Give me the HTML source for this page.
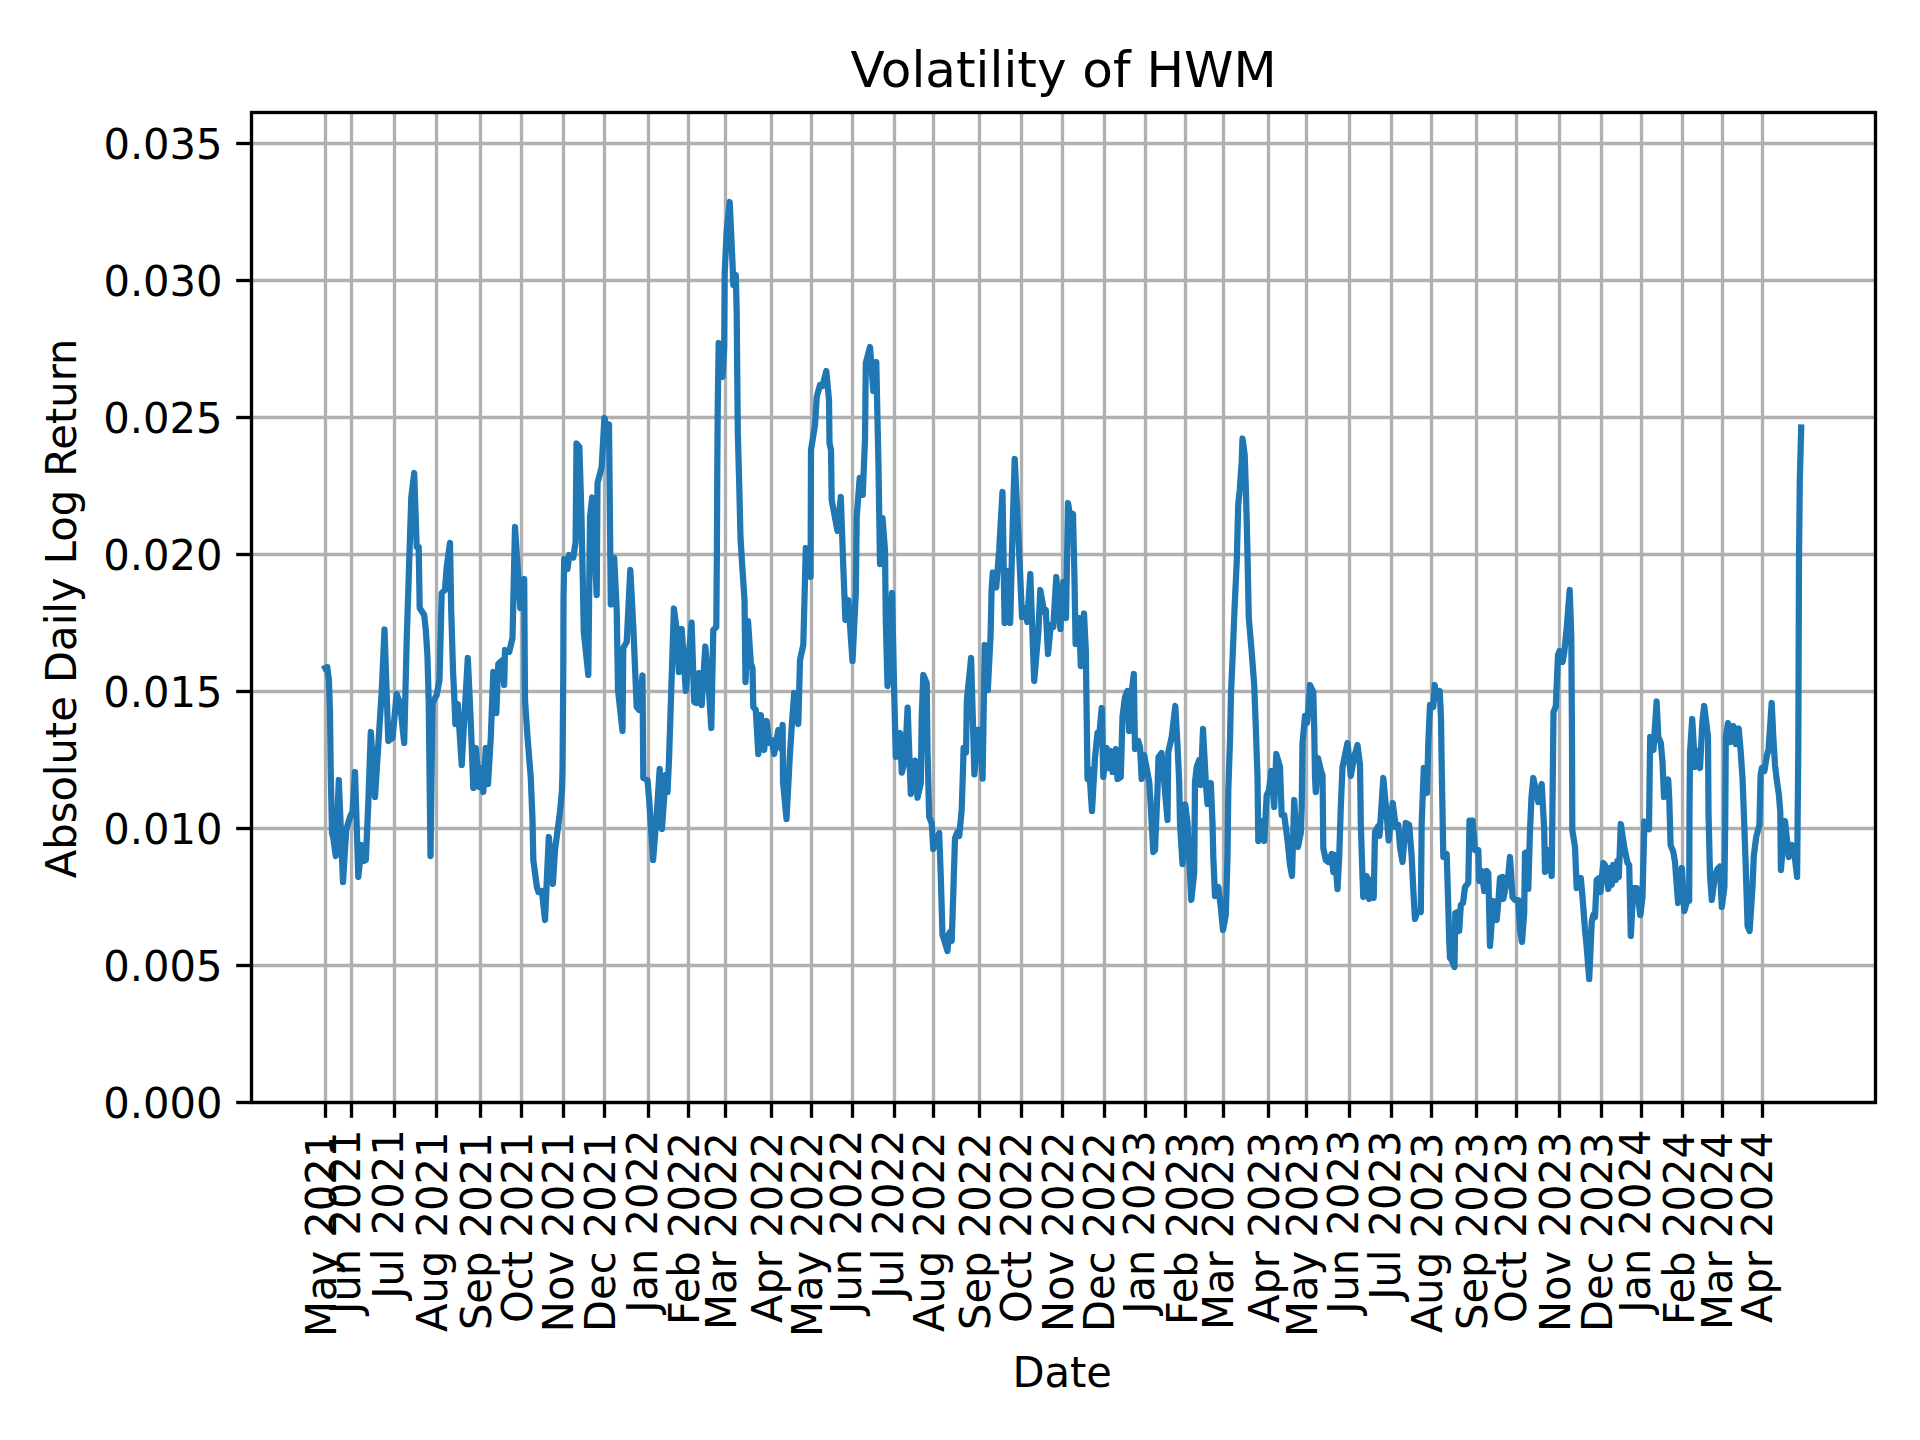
<!DOCTYPE html>
<html lang="en"><head><meta charset="utf-8"><title>Volatility of HWM</title>
<style>html,body{margin:0;padding:0;background:#fff}body{width:1920px;height:1440px;overflow:hidden}svg{display:block}text{font-family:"DejaVu Sans","Liberation Sans",sans-serif;fill:#000}</style></head><body>
<svg width="1920" height="1440" viewBox="0 0 1920 1440">
<rect width="1920" height="1440" fill="#fff"/>
<g stroke="#b0b0b0" stroke-width="3.333" fill="none">
<line x1="325.50" y1="112.5" x2="325.50" y2="1102.5"/>
<line x1="351.50" y1="112.5" x2="351.50" y2="1102.5"/>
<line x1="394.50" y1="112.5" x2="394.50" y2="1102.5"/>
<line x1="436.50" y1="112.5" x2="436.50" y2="1102.5"/>
<line x1="480.50" y1="112.5" x2="480.50" y2="1102.5"/>
<line x1="521.50" y1="112.5" x2="521.50" y2="1102.5"/>
<line x1="563.50" y1="112.5" x2="563.50" y2="1102.5"/>
<line x1="604.50" y1="112.5" x2="604.50" y2="1102.5"/>
<line x1="648.50" y1="112.5" x2="648.50" y2="1102.5"/>
<line x1="688.50" y1="112.5" x2="688.50" y2="1102.5"/>
<line x1="725.50" y1="112.5" x2="725.50" y2="1102.5"/>
<line x1="771.50" y1="112.5" x2="771.50" y2="1102.5"/>
<line x1="811.50" y1="112.5" x2="811.50" y2="1102.5"/>
<line x1="852.50" y1="112.5" x2="852.50" y2="1102.5"/>
<line x1="894.50" y1="112.5" x2="894.50" y2="1102.5"/>
<line x1="933.50" y1="112.5" x2="933.50" y2="1102.5"/>
<line x1="979.50" y1="112.5" x2="979.50" y2="1102.5"/>
<line x1="1021.50" y1="112.5" x2="1021.50" y2="1102.5"/>
<line x1="1062.50" y1="112.5" x2="1062.50" y2="1102.5"/>
<line x1="1104.50" y1="112.5" x2="1104.50" y2="1102.5"/>
<line x1="1145.50" y1="112.5" x2="1145.50" y2="1102.5"/>
<line x1="1185.50" y1="112.5" x2="1185.50" y2="1102.5"/>
<line x1="1223.50" y1="112.5" x2="1223.50" y2="1102.5"/>
<line x1="1268.50" y1="112.5" x2="1268.50" y2="1102.5"/>
<line x1="1306.50" y1="112.5" x2="1306.50" y2="1102.5"/>
<line x1="1349.50" y1="112.5" x2="1349.50" y2="1102.5"/>
<line x1="1391.50" y1="112.5" x2="1391.50" y2="1102.5"/>
<line x1="1431.50" y1="112.5" x2="1431.50" y2="1102.5"/>
<line x1="1476.50" y1="112.5" x2="1476.50" y2="1102.5"/>
<line x1="1516.50" y1="112.5" x2="1516.50" y2="1102.5"/>
<line x1="1559.50" y1="112.5" x2="1559.50" y2="1102.5"/>
<line x1="1601.50" y1="112.5" x2="1601.50" y2="1102.5"/>
<line x1="1641.50" y1="112.5" x2="1641.50" y2="1102.5"/>
<line x1="1682.50" y1="112.5" x2="1682.50" y2="1102.5"/>
<line x1="1722.50" y1="112.5" x2="1722.50" y2="1102.5"/>
<line x1="1762.50" y1="112.5" x2="1762.50" y2="1102.5"/>
<line x1="251.5" y1="1102.50" x2="1875.5" y2="1102.50"/>
<line x1="251.5" y1="965.50" x2="1875.5" y2="965.50"/>
<line x1="251.5" y1="828.50" x2="1875.5" y2="828.50"/>
<line x1="251.5" y1="691.50" x2="1875.5" y2="691.50"/>
<line x1="251.5" y1="554.50" x2="1875.5" y2="554.50"/>
<line x1="251.5" y1="417.50" x2="1875.5" y2="417.50"/>
<line x1="251.5" y1="280.50" x2="1875.5" y2="280.50"/>
<line x1="251.5" y1="143.50" x2="1875.5" y2="143.50"/>
</g>
<g stroke="#000" stroke-width="3.333" fill="none">
<line x1="325.50" y1="1102.5" x2="325.50" y2="1117.80"/>
<line x1="351.50" y1="1102.5" x2="351.50" y2="1117.80"/>
<line x1="394.50" y1="1102.5" x2="394.50" y2="1117.80"/>
<line x1="436.50" y1="1102.5" x2="436.50" y2="1117.80"/>
<line x1="480.50" y1="1102.5" x2="480.50" y2="1117.80"/>
<line x1="521.50" y1="1102.5" x2="521.50" y2="1117.80"/>
<line x1="563.50" y1="1102.5" x2="563.50" y2="1117.80"/>
<line x1="604.50" y1="1102.5" x2="604.50" y2="1117.80"/>
<line x1="648.50" y1="1102.5" x2="648.50" y2="1117.80"/>
<line x1="688.50" y1="1102.5" x2="688.50" y2="1117.80"/>
<line x1="725.50" y1="1102.5" x2="725.50" y2="1117.80"/>
<line x1="771.50" y1="1102.5" x2="771.50" y2="1117.80"/>
<line x1="811.50" y1="1102.5" x2="811.50" y2="1117.80"/>
<line x1="852.50" y1="1102.5" x2="852.50" y2="1117.80"/>
<line x1="894.50" y1="1102.5" x2="894.50" y2="1117.80"/>
<line x1="933.50" y1="1102.5" x2="933.50" y2="1117.80"/>
<line x1="979.50" y1="1102.5" x2="979.50" y2="1117.80"/>
<line x1="1021.50" y1="1102.5" x2="1021.50" y2="1117.80"/>
<line x1="1062.50" y1="1102.5" x2="1062.50" y2="1117.80"/>
<line x1="1104.50" y1="1102.5" x2="1104.50" y2="1117.80"/>
<line x1="1145.50" y1="1102.5" x2="1145.50" y2="1117.80"/>
<line x1="1185.50" y1="1102.5" x2="1185.50" y2="1117.80"/>
<line x1="1223.50" y1="1102.5" x2="1223.50" y2="1117.80"/>
<line x1="1268.50" y1="1102.5" x2="1268.50" y2="1117.80"/>
<line x1="1306.50" y1="1102.5" x2="1306.50" y2="1117.80"/>
<line x1="1349.50" y1="1102.5" x2="1349.50" y2="1117.80"/>
<line x1="1391.50" y1="1102.5" x2="1391.50" y2="1117.80"/>
<line x1="1431.50" y1="1102.5" x2="1431.50" y2="1117.80"/>
<line x1="1476.50" y1="1102.5" x2="1476.50" y2="1117.80"/>
<line x1="1516.50" y1="1102.5" x2="1516.50" y2="1117.80"/>
<line x1="1559.50" y1="1102.5" x2="1559.50" y2="1117.80"/>
<line x1="1601.50" y1="1102.5" x2="1601.50" y2="1117.80"/>
<line x1="1641.50" y1="1102.5" x2="1641.50" y2="1117.80"/>
<line x1="1682.50" y1="1102.5" x2="1682.50" y2="1117.80"/>
<line x1="1722.50" y1="1102.5" x2="1722.50" y2="1117.80"/>
<line x1="1762.50" y1="1102.5" x2="1762.50" y2="1117.80"/>
<line x1="236.20" y1="1102.50" x2="251.5" y2="1102.50"/>
<line x1="236.20" y1="965.50" x2="251.5" y2="965.50"/>
<line x1="236.20" y1="828.50" x2="251.5" y2="828.50"/>
<line x1="236.20" y1="691.50" x2="251.5" y2="691.50"/>
<line x1="236.20" y1="554.50" x2="251.5" y2="554.50"/>
<line x1="236.20" y1="417.50" x2="251.5" y2="417.50"/>
<line x1="236.20" y1="280.50" x2="251.5" y2="280.50"/>
<line x1="236.20" y1="143.50" x2="251.5" y2="143.50"/>
</g>
<clipPath id="ax"><rect x="251.5" y="112.5" width="1624.0" height="990.0"/></clipPath>
<polyline clip-path="url(#ax)" points="325.2,668.0 327.2,667.0 328.9,680.0 330.0,712.0 330.7,770.0 332.0,833.0 333.3,838.0 335.8,856.0 338.8,780.0 343.0,882.0 346.2,830.0 350.0,817.0 352.5,812.0 355.0,772.0 358.3,877.0 361.7,845.0 363.8,861.0 365.8,860.0 368.3,803.0 370.8,732.0 375.0,797.0 378.3,745.0 381.7,692.0 384.5,629.5 388.3,741.0 392.5,738.0 396.7,694.0 400.0,703.0 404.2,743.0 406.7,640.0 411.3,497.0 414.2,473.0 416.7,547.0 418.7,547.0 419.7,608.0 424.2,615.0 425.8,630.0 427.4,655.0 428.7,700.0 429.3,753.0 430.5,856.0 432.5,703.0 436.7,695.0 439.5,680.0 441.7,593.0 445.0,590.0 446.7,567.0 450.0,543.0 451.2,610.0 453.0,670.0 454.5,702.0 455.4,724.0 457.8,704.0 461.7,765.0 467.8,658.0 470.7,720.0 473.3,788.0 475.8,748.0 479.2,787.0 481.0,768.0 483.3,792.0 485.8,748.0 488.0,784.0 490.8,737.0 493.3,672.0 496.3,713.0 498.3,664.0 502.5,660.0 504.2,685.0 505.0,650.0 509.2,652.0 512.5,638.0 515.0,527.0 520.3,608.0 524.2,579.0 525.0,700.0 527.5,737.0 530.8,778.0 532.5,820.0 533.3,860.0 536.9,887.0 538.5,892.0 541.9,891.0 545.0,920.0 548.8,837.0 552.9,884.0 555.0,850.0 557.5,831.0 560.0,812.0 562.0,790.0 562.5,770.0 563.3,670.0 563.5,600.0 564.2,559.0 567.5,569.0 569.2,555.0 573.3,557.5 575.6,542.0 576.5,443.5 579.4,447.0 581.5,517.0 582.8,580.0 583.8,632.0 588.3,675.0 590.0,517.0 592.2,497.5 596.7,595.0 597.5,483.0 601.7,467.0 604.4,418.0 607.0,430.0 609.0,424.4 610.8,604.4 614.2,558.0 616.7,610.0 618.0,690.0 622.5,731.0 623.3,648.0 626.7,642.0 630.3,570.0 633.3,627.0 636.7,707.0 639.2,710.0 642.5,675.5 643.3,778.0 647.5,780.0 649.2,800.0 653.1,860.0 656.9,812.0 659.7,769.0 661.9,829.0 665.8,775.0 667.5,792.0 669.0,760.0 671.7,677.0 673.9,608.5 676.7,630.0 678.9,672.0 681.7,629.0 685.8,691.0 691.6,622.7 694.2,702.0 696.7,703.0 699.2,673.0 701.7,705.0 705.3,646.5 708.3,680.0 711.3,728.0 713.3,630.0 716.3,627.0 716.9,550.0 717.3,467.0 717.8,400.0 718.7,343.0 722.5,377.0 724.2,347.0 724.7,273.0 726.7,230.0 729.7,202.0 732.5,263.0 733.3,285.0 735.8,275.0 736.7,313.0 737.3,380.0 737.8,433.0 739.2,483.0 740.5,538.0 742.5,570.0 744.5,600.0 745.5,682.0 748.0,621.0 750.8,663.0 752.5,668.0 753.3,707.0 755.8,710.0 758.3,754.0 760.8,715.0 764.2,750.0 766.7,721.0 769.2,743.0 771.7,740.0 774.2,754.0 778.3,730.0 780.0,743.0 781.2,749.0 782.6,725.0 783.0,782.0 786.5,819.0 789.6,760.0 791.7,727.0 794.2,693.0 798.3,724.0 800.0,660.0 803.3,645.0 805.8,548.0 810.6,577.0 811.0,450.0 815.0,425.0 816.7,397.0 820.0,385.0 822.5,386.0 826.3,371.0 829.0,400.0 829.5,443.0 831.0,450.0 831.7,500.0 837.5,531.0 840.8,497.0 843.3,567.0 845.4,620.0 848.3,600.0 852.5,661.0 855.8,593.0 856.7,517.0 859.7,478.0 862.7,495.0 865.0,440.0 865.8,363.0 870.0,347.0 873.3,391.0 876.3,362.0 877.5,420.0 878.5,467.0 880.0,564.0 882.5,518.0 885.0,550.0 885.8,620.0 887.5,686.0 892.0,593.0 894.2,693.0 895.8,757.0 900.0,733.0 901.8,772.7 905.0,760.0 907.6,707.7 910.8,794.0 915.2,760.6 917.5,797.7 920.8,783.0 921.7,717.0 923.3,675.0 926.7,683.0 927.5,750.0 929.2,817.0 931.7,823.0 933.3,849.0 939.2,833.0 940.8,877.0 942.5,935.0 944.2,940.0 947.5,951.0 948.5,935.0 950.0,932.0 951.7,941.0 953.3,893.0 955.0,838.0 957.5,832.0 959.2,836.0 961.7,810.0 963.0,770.0 963.6,748.0 966.0,752.7 966.9,700.0 971.1,658.0 974.4,774.4 977.6,729.8 980.0,729.8 982.6,778.6 984.7,645.0 987.8,690.0 990.6,635.0 991.6,590.0 992.8,572.5 996.2,587.5 999.2,550.0 1002.5,492.0 1004.6,623.0 1007.5,571.0 1010.2,623.0 1012.5,533.0 1014.7,459.0 1018.3,533.0 1022.0,617.0 1024.5,608.0 1027.2,622.0 1030.3,574.0 1034.2,681.0 1038.3,633.0 1040.3,590.0 1044.2,612.0 1045.8,610.0 1048.0,654.0 1050.8,625.0 1053.3,627.0 1056.3,577.0 1060.4,629.0 1063.3,582.0 1066.0,618.0 1068.0,503.0 1070.3,517.0 1073.0,514.0 1074.5,580.0 1075.6,644.0 1079.2,618.0 1080.8,666.0 1084.0,613.5 1085.8,650.0 1086.7,717.0 1087.5,779.0 1089.2,769.0 1092.0,811.0 1095.0,758.0 1097.5,733.0 1099.2,736.0 1101.7,708.0 1103.3,777.0 1106.7,748.0 1108.5,768.0 1110.8,751.0 1112.5,772.0 1115.8,749.0 1117.5,779.0 1120.8,777.0 1122.5,717.0 1125.0,697.0 1127.5,691.0 1129.2,731.0 1131.7,692.0 1133.8,674.0 1135.0,749.0 1138.3,741.0 1140.0,747.0 1141.7,779.0 1144.2,755.0 1147.0,770.0 1149.2,782.0 1150.8,807.0 1153.3,852.0 1155.0,850.0 1157.5,790.0 1158.5,757.0 1161.5,753.0 1164.2,782.0 1167.5,820.0 1168.3,752.0 1171.7,737.0 1175.3,706.0 1177.5,745.0 1179.2,782.0 1180.0,823.0 1182.5,864.0 1185.2,804.5 1187.5,823.0 1189.2,857.0 1191.3,900.0 1194.2,873.0 1195.0,782.0 1196.7,767.0 1199.2,760.0 1200.8,785.0 1203.0,729.0 1205.8,782.0 1207.5,804.0 1210.8,783.0 1212.5,823.0 1213.3,857.0 1215.0,896.0 1218.3,887.0 1220.8,907.0 1223.0,930.0 1225.8,915.0 1227.5,857.0 1228.3,790.0 1230.0,740.0 1231.0,693.0 1232.5,660.0 1234.5,610.0 1236.8,560.0 1238.2,505.0 1239.7,490.0 1241.7,462.0 1242.5,438.5 1244.7,455.0 1245.8,487.0 1246.7,520.0 1247.7,565.0 1248.8,618.0 1251.7,652.0 1254.2,685.0 1255.8,727.0 1257.5,777.0 1258.3,841.0 1260.8,821.0 1264.2,841.0 1266.7,795.0 1269.0,790.0 1271.3,771.0 1274.2,807.0 1276.3,754.0 1280.0,767.0 1281.7,815.0 1284.2,815.0 1287.5,840.0 1290.0,865.0 1292.0,876.0 1294.2,800.0 1296.0,830.0 1298.0,847.0 1300.8,833.0 1301.7,807.0 1302.5,743.0 1305.0,716.0 1307.0,723.0 1308.3,710.0 1310.0,685.0 1313.3,692.0 1314.2,727.0 1315.0,777.0 1315.8,792.0 1318.0,758.0 1320.8,770.0 1322.5,775.0 1323.3,848.0 1325.8,860.0 1328.3,862.0 1331.7,854.0 1333.3,872.0 1335.0,855.0 1337.5,889.0 1339.2,857.0 1340.8,807.0 1342.5,767.0 1345.0,755.0 1347.5,743.0 1350.8,776.0 1354.2,757.0 1357.5,745.0 1360.0,765.0 1360.8,823.0 1362.5,877.0 1363.3,897.0 1366.7,876.0 1369.2,899.0 1370.8,880.0 1373.7,898.0 1375.0,832.0 1378.3,826.0 1379.5,836.0 1383.3,778.0 1386.7,815.0 1388.7,840.5 1392.7,803.0 1395.8,827.0 1398.3,825.0 1400.0,847.0 1402.5,862.0 1405.8,823.0 1409.2,825.0 1411.7,857.0 1413.3,890.0 1415.0,919.0 1417.5,911.0 1420.8,912.0 1421.7,823.0 1423.8,768.0 1427.0,793.0 1428.3,743.0 1430.0,705.0 1433.3,707.0 1434.7,685.0 1436.7,698.0 1439.7,691.0 1441.0,718.0 1441.6,760.0 1442.4,805.0 1443.3,857.0 1446.7,854.0 1448.3,907.0 1449.2,940.0 1450.0,958.0 1451.7,960.0 1454.5,967.0 1455.3,913.0 1457.5,912.0 1459.2,931.0 1460.8,905.0 1463.0,903.0 1465.0,887.0 1468.3,883.0 1469.5,820.6 1472.6,820.6 1475.0,850.0 1478.3,850.0 1479.2,881.0 1481.7,871.0 1484.2,891.0 1486.7,871.0 1488.3,873.0 1490.0,946.0 1493.3,901.0 1496.7,920.0 1498.5,900.0 1500.0,878.0 1502.5,877.0 1503.3,899.0 1505.5,888.0 1507.5,883.0 1510.0,857.0 1512.5,897.0 1515.0,900.0 1518.3,900.0 1520.0,930.0 1522.0,942.0 1524.2,913.0 1525.0,853.0 1527.5,852.0 1528.3,889.0 1530.0,830.0 1531.5,797.0 1533.3,778.0 1535.8,790.0 1538.3,802.0 1541.7,784.0 1544.2,830.0 1545.0,872.0 1548.3,850.0 1551.7,876.0 1553.5,712.0 1555.8,706.5 1558.0,655.0 1559.5,651.0 1562.6,662.0 1564.2,653.0 1566.7,628.0 1569.7,590.0 1571.3,637.0 1572.0,737.0 1572.3,830.0 1575.0,847.0 1576.7,888.0 1580.8,878.0 1582.5,897.0 1585.0,930.0 1586.7,947.0 1589.2,979.0 1591.7,922.0 1593.3,915.0 1595.0,917.0 1596.7,880.0 1599.2,878.0 1600.5,892.0 1603.3,863.0 1605.0,865.0 1608.3,889.0 1610.0,868.0 1611.7,885.0 1613.3,865.0 1615.8,880.0 1617.5,861.0 1618.8,877.0 1620.8,824.0 1624.2,847.0 1627.5,863.0 1629.2,865.0 1630.8,936.0 1633.3,888.0 1636.7,888.0 1640.3,915.0 1642.5,897.0 1644.4,821.5 1646.6,823.0 1649.0,829.3 1649.6,780.0 1650.2,737.0 1653.5,750.0 1656.6,701.5 1658.3,737.0 1660.8,743.0 1662.5,762.0 1664.0,797.0 1668.2,779.5 1669.3,800.0 1670.6,845.0 1673.3,852.0 1675.0,862.0 1678.1,903.0 1681.9,868.0 1684.4,911.0 1686.9,902.0 1689.2,901.0 1689.5,810.0 1690.0,753.0 1692.2,719.0 1695.0,767.0 1697.5,751.0 1700.0,768.0 1702.5,720.0 1704.2,706.0 1708.0,737.0 1708.5,812.0 1710.0,875.0 1711.8,900.0 1715.0,875.0 1717.5,869.0 1719.8,866.5 1721.8,907.0 1724.4,887.0 1725.2,825.0 1725.8,737.0 1728.0,723.0 1730.8,742.0 1733.3,726.0 1735.8,744.0 1738.7,728.5 1740.8,753.0 1742.5,778.0 1743.8,812.0 1745.6,862.0 1747.6,926.0 1749.6,931.0 1752.5,887.0 1753.8,856.0 1756.2,837.0 1759.4,825.0 1760.6,775.0 1761.9,768.0 1764.4,771.0 1767.0,755.0 1768.5,750.0 1771.7,703.0 1773.3,737.0 1775.0,765.0 1776.5,778.0 1778.8,794.0 1780.3,812.0 1780.9,870.0 1785.0,821.0 1788.8,857.0 1791.9,845.0 1794.4,854.0 1797.1,877.0 1798.3,750.0 1799.0,560.0 1799.8,480.0 1801.2,427.5" fill="none" stroke="#1f77b4" stroke-width="6.25" stroke-linejoin="round" stroke-linecap="square"/>
<rect x="251.5" y="112.5" width="1624.0" height="990.0" fill="none" stroke="#000" stroke-width="3.333" stroke-linejoin="miter"/>
<g font-size="41.667px" text-anchor="end">
<text transform="translate(222.56,1117.78) scale(1.0,1.03)">0.000</text>
<text transform="translate(222.50,980.82) scale(1.0,1.03)">0.005</text>
<text transform="translate(222.58,843.63) scale(1.0,1.03)">0.010</text>
<text transform="translate(222.44,706.63) scale(1.0,1.03)">0.015</text>
<text transform="translate(222.52,569.81) scale(1.0,1.03)">0.020</text>
<text transform="translate(222.49,432.53) scale(1.0,1.03)">0.025</text>
<text transform="translate(222.62,295.53) scale(1.0,1.03)">0.030</text>
<text transform="translate(222.62,158.58) scale(1.0,1.03)">0.035</text>
</g>
<g font-size="41.667px" text-anchor="end">
<text transform="translate(335.91,1131.68) rotate(-90) scale(1.0,1.03)">May 2021</text>
<text transform="translate(360.35,1129.57) rotate(-90) scale(1.0,1.03)">Jun 2021</text>
<text transform="translate(403.04,1129.32) rotate(-90) scale(1.0,1.03)">Jul 2021</text>
<text transform="translate(446.88,1131.52) rotate(-90) scale(1.0,1.03)">Aug 2021</text>
<text transform="translate(491.05,1132.33) rotate(-90) scale(1.0,1.03)">Sep 2021</text>
<text transform="translate(531.89,1131.71) rotate(-90) scale(1.0,1.03)">Oct 2021</text>
<text transform="translate(572.75,1131.64) rotate(-90) scale(1.0,1.03)">Nov 2021</text>
<text transform="translate(614.92,1132.17) rotate(-90) scale(1.0,1.03)">Dec 2021</text>
<text transform="translate(656.89,1129.40) rotate(-90) scale(1.0,1.03)">Jan 2022</text>
<text transform="translate(698.67,1131.95) rotate(-90) scale(1.0,1.03)">Feb 2022</text>
<text transform="translate(735.68,1132.18) rotate(-90) scale(1.0,1.03)">Mar 2022</text>
<text transform="translate(781.73,1131.78) rotate(-90) scale(1.0,1.03)">Apr 2022</text>
<text transform="translate(821.72,1131.65) rotate(-90) scale(1.0,1.03)">May 2022</text>
<text transform="translate(860.61,1129.57) rotate(-90) scale(1.0,1.03)">Jun 2022</text>
<text transform="translate(902.71,1129.37) rotate(-90) scale(1.0,1.03)">Jul 2022</text>
<text transform="translate(943.82,1131.52) rotate(-90) scale(1.0,1.03)">Aug 2022</text>
<text transform="translate(989.73,1132.27) rotate(-90) scale(1.0,1.03)">Sep 2022</text>
<text transform="translate(1030.65,1131.64) rotate(-90) scale(1.0,1.03)">Oct 2022</text>
<text transform="translate(1072.50,1131.56) rotate(-90) scale(1.0,1.03)">Nov 2022</text>
<text transform="translate(1113.75,1132.13) rotate(-90) scale(1.0,1.03)">Dec 2022</text>
<text transform="translate(1154.32,1130.36) rotate(-90) scale(1.0,1.03)">Jan 2023</text>
<text transform="translate(1196.77,1131.96) rotate(-90) scale(1.0,1.03)">Feb 2023</text>
<text transform="translate(1232.75,1132.19) rotate(-90) scale(1.0,1.03)">Mar 2023</text>
<text transform="translate(1278.78,1131.75) rotate(-90) scale(1.0,1.03)">Apr 2023</text>
<text transform="translate(1316.76,1131.63) rotate(-90) scale(1.0,1.03)">May 2023</text>
<text transform="translate(1357.78,1129.55) rotate(-90) scale(1.0,1.03)">Jun 2023</text>
<text transform="translate(1399.69,1130.37) rotate(-90) scale(1.0,1.03)">Jul 2023</text>
<text transform="translate(1441.70,1132.54) rotate(-90) scale(1.0,1.03)">Aug 2023</text>
<text transform="translate(1486.66,1132.20) rotate(-90) scale(1.0,1.03)">Sep 2023</text>
<text transform="translate(1525.51,1131.64) rotate(-90) scale(1.0,1.03)">Oct 2023</text>
<text transform="translate(1569.56,1131.55) rotate(-90) scale(1.0,1.03)">Nov 2023</text>
<text transform="translate(1611.83,1132.14) rotate(-90) scale(1.0,1.03)">Dec 2023</text>
<text transform="translate(1649.75,1129.40) rotate(-90) scale(1.0,1.03)">Jan 2024</text>
<text transform="translate(1693.99,1132.07) rotate(-90) scale(1.0,1.03)">Feb 2024</text>
<text transform="translate(1731.85,1132.19) rotate(-90) scale(1.0,1.03)">Mar 2024</text>
<text transform="translate(1771.54,1131.79) rotate(-90) scale(1.0,1.03)">Apr 2024</text>
</g>
<text transform="translate(1062.18,1387.08) scale(1,1.03)" font-size="41.667px" text-anchor="middle">Date</text>
<text transform="translate(76.19,608.37) rotate(-90) scale(1,1.03)" font-size="41.667px" text-anchor="middle">Absolute Daily Log Return</text>
<text transform="translate(1063.58,87.10)" font-size="50.0px" text-anchor="middle">Volatility of HWM</text>
</svg></body></html>
